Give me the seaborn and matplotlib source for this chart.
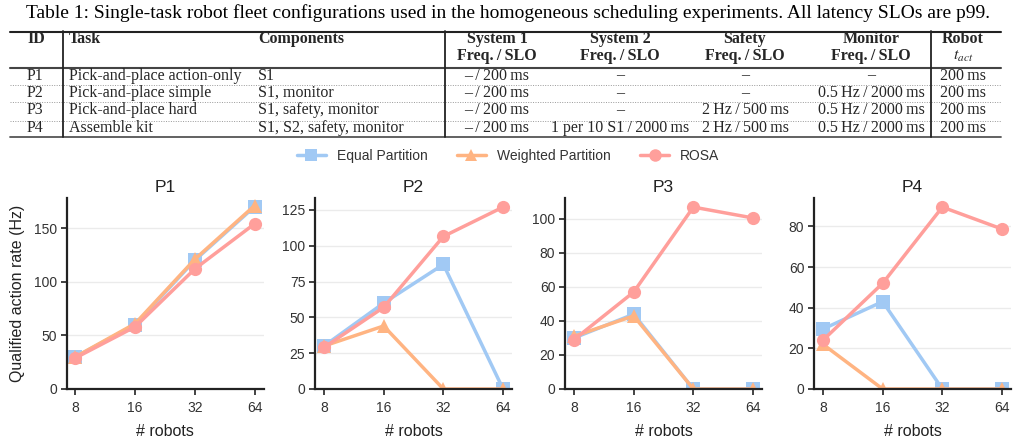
import numpy as np
import pandas as pd
import matplotlib
matplotlib.use("Agg")
import matplotlib.pyplot as plt
import seaborn as sns
from matplotlib.lines import Line2D
from matplotlib.ticker import NullLocator

# ---------------- data ----------------
robots = [8, 16, 32, 64]
robot_labels = ["8", "16", "32", "64"]
panels = ["P1", "P2", "P3", "P4"]
methods = ["Equal Partition", "Weighted Partition", "ROSA"]

p1_equal = [30, 60, 120, 170]
p1_weighted = [30, 61, 121, 171]
p1_rosa = [29, 58, 112, 154]

p2_equal = [30, 60, 87, 0]
p2_weighted = [30, 44, 0, 0]
p2_rosa = [29, 57, 106.5, 127]

p3_equal = [30, 44, 0, 0]
p3_weighted = [31, 43, 0, 0]
p3_rosa = [29, 57, 107, 100.6]

p4_equal = [29.5, 43, 0, 0]
p4_weighted = [22, 0, 0, 0]
p4_rosa = [24, 52, 89.5, 78.7]

caption = ("Table 1: Single-task robot fleet configurations used in the homogeneous "
           "scheduling experiments. All latency SLOs are p99.")
table_ids = ["P1", "P2", "P3", "P4"]
table_tasks = ["Pick-and-place action-only", "Pick-and-place simple",
               "Pick-and-place hard", "Assemble kit"]
table_components = ["S1", "S1, monitor", "S1, safety, monitor", "S1, S2, safety, monitor"]
table_sys1 = ["\u2013\u2009/\u2009200\u2009ms"] * 4
table_sys2 = ["\u2013", "\u2013", "\u2013", "1 per 10 S1\u2009/\u20092000\u2009ms"]
table_safety = ["\u2013", "\u2013", "2\u2009Hz\u2009/\u2009500\u2009ms", "2\u2009Hz\u2009/\u2009500\u2009ms"]
table_monitor = ["\u2013", "0.5\u2009Hz\u2009/\u20092000\u2009ms", "0.5\u2009Hz\u2009/\u20092000\u2009ms",
                 "0.5\u2009Hz\u2009/\u20092000\u2009ms"]
table_robot = ["200\u2009ms"] * 4

# ---------------- build long table ----------------
series = {
    "P1": [p1_equal, p1_weighted, p1_rosa],
    "P2": [p2_equal, p2_weighted, p2_rosa],
    "P3": [p3_equal, p3_weighted, p3_rosa],
    "P4": [p4_equal, p4_weighted, p4_rosa],
}
rows = []
for p in panels:
    for m, vals in zip(methods, series[p]):
        for r, v in zip(robots, vals):
            rows.append({"panel": p, "method": m, "robots": r, "rate": v})
df = pd.DataFrame(rows)

# ---------------- style ----------------
sns.set_theme(style="ticks")
plt.rcParams["font.family"] = ["Liberation Sans", "DejaVu Sans"]
plt.rcParams["mathtext.fontset"] = "stix"

pastel = sns.color_palette("pastel")
palette = {"Equal Partition": pastel[0], "Weighted Partition": pastel[1], "ROSA": pastel[3]}
markers = {"Equal Partition": "s", "Weighted Partition": "^", "ROSA": "o"}

W, H = 1019, 443
fig = plt.figure(figsize=(W / 100, H / 100), dpi=100)


def fx(x):
    return x / W


def fy(y):
    return 1 - y / H


# ---------------- table ----------------
serif = ["Liberation Serif", "DejaVu Serif"]
fig.text(fx(508), fy(13), caption, ha="center", va="center", fontsize=14, family=serif, color="black")

rule_l, rule_r = 10, 1001
def hline(y, lw=1.3, color="#222222", ls="-"):
    fig.add_artist(Line2D([fx(rule_l), fx(rule_r)], [fy(y), fy(y)], lw=lw, color=color,
                          ls=ls, transform=fig.transFigure))

def vline(x, y0=31, y1=137.5, lw=1.3):
    fig.add_artist(Line2D([fx(x), fx(x)], [fy(y0), fy(y1)], lw=lw, color="#222222",
                          transform=fig.transFigure))

hline(31.5, lw=1.5)
hline(67.5, lw=1.5, color="#444444")
for y in [84.5, 102.3, 120.5]:
    hline(y, lw=0.7, color="#999999", ls=(0, (1, 1.5)))
hline(137.5, lw=1.3, color="#555555")
for x in [63, 445, 931]:
    vline(x)

fs_tab = 11.5
hdr_y1, hdr_y2 = 39, 56
left_cols = [(27, "ID"), (69, "Task"), (258, "Components")]
for x, t in left_cols:
    fig.text(fx(x), fy(hdr_y1), t, ha="left", va="center", fontsize=fs_tab,
             family=serif, weight="bold")
center_cols = [(497, "System 1"), (620, "System 2"), (745, "Safety"), (871, "Monitor")]
for x, t in center_cols:
    fig.text(fx(x), fy(hdr_y1), t, ha="center", va="center", fontsize=fs_tab,
             family=serif, weight="bold")
    fig.text(fx(x), fy(hdr_y2), "Freq.\u2009/\u2009SLO", ha="center", va="center",
             fontsize=fs_tab, family=serif, weight="bold")
fig.text(fx(963), fy(hdr_y1), "Robot", ha="center", va="center", fontsize=fs_tab,
         family=serif, weight="bold")
fig.text(fx(963), fy(hdr_y2), r"$t_{act}$", ha="center", va="center", fontsize=fs_tab,
         family=serif)

row_y = [75.5, 93, 110.5, 128]
for i, y in enumerate(row_y):
    fig.text(fx(27), fy(y), table_ids[i], ha="left", va="center", fontsize=fs_tab, family=serif)
    fig.text(fx(69), fy(y), table_tasks[i], ha="left", va="center", fontsize=fs_tab, family=serif)
    fig.text(fx(258), fy(y), table_components[i], ha="left", va="center", fontsize=fs_tab, family=serif)
    for x, col in zip([497, 620, 745, 871, 963],
                      [table_sys1, table_sys2, table_safety, table_monitor, table_robot]):
        fig.text(fx(x), fy(y), col[i], ha="center", va="center", fontsize=fs_tab, family=serif)

# ---------------- plots ----------------
ax_lefts = [66.5, 315, 565, 814]
ax_w = 197
ax_top, ax_bot = 198, 389
axes = []
for i, p in enumerate(panels):
    ax = fig.add_axes([fx(ax_lefts[i]), fy(ax_bot), ax_w / W, (ax_bot - ax_top) / H])
    axes.append(ax)
    sub = df[df["panel"] == p]
    sns.lineplot(data=sub, x="robots", y="rate", hue="method", style="method",
                 hue_order=methods, style_order=methods, palette=palette,
                 markers=markers, dashes=False, linewidth=2.5, markersize=9.5,
                 markeredgewidth=0, legend=False, ax=ax)
    ax.set_xscale("log", base=2)
    ax.set_xticks(robots)
    ax.set_xticklabels(robot_labels)
    ax.xaxis.set_minor_locator(NullLocator())
    ax.set_ylim(bottom=0)
    ax.yaxis.grid(True, color="#ebebeb", lw=1)
    ax.set_axisbelow(True)
    ax.set_title(p, fontsize=12.5, pad=4, color="#222222")
    ax.set_xlabel("# robots", fontsize=11.5, color="#222222", labelpad=6)
    ax.set_ylabel("")
    for s in ["top", "right"]:
        ax.spines[s].set_visible(False)
    for s in ["left", "bottom"]:
        ax.spines[s].set_linewidth(1.6)
        ax.spines[s].set_color("#222222")
    ax.tick_params(axis="both", labelsize=10, length=4, width=1.2, color="#222222",
                   labelcolor="#333333")
    ax.tick_params(axis="x", pad=5)
    ax.tick_params(axis="y", pad=3)

axes[0].set_ylabel("Qualified action rate (Hz)", fontsize=11.5, color="#222222", labelpad=6)

handles = [Line2D([], [], color=palette[m], marker=markers[m], lw=2.5, markersize=9,
                  markeredgewidth=0) for m in methods]
fig.legend(handles, methods, loc="center", bbox_to_anchor=(fx(508), fy(156)), ncol=3,
           frameon=False, fontsize=10, handlelength=2.1, handletextpad=0.8,
           columnspacing=2.1, labelcolor="#333333")

fig.savefig("out.png", dpi=100)
